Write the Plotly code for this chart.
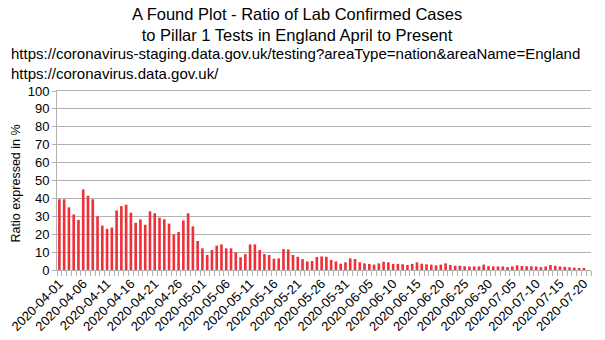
import pandas as pd
import plotly.graph_objects as go

# Daily ratio of lab-confirmed cases to Pillar 1 tests (England), in %
dates = pd.date_range("2020-04-01", "2020-07-21", freq="D").strftime("%Y-%m-%d").tolist()
ratio_pct = [
    39.5, 39.5, 35.0, 31.0, 28.0, 45.0, 41.5, 39.5, 30.0, 24.8,
    23.0, 23.7, 33.3, 35.7, 36.5, 32.0, 26.4, 28.3, 25.3, 32.8,
    31.7, 29.2, 28.3, 25.9, 19.9, 21.2, 27.7, 31.7, 24.4, 16.2,
    12.1, 8.4, 11.2, 13.6, 14.3, 12.1, 12.1, 9.9, 7.1, 8.9,
    14.3, 14.3, 11.2, 8.9, 8.4, 6.3, 6.5, 11.7, 11.5, 8.4,
    7.4, 6.1, 4.8, 5.0, 7.3, 7.6, 7.4, 5.6, 4.8, 3.5,
    4.3, 6.5, 6.1, 4.3, 3.7, 3.4, 3.0, 3.7, 4.6, 4.3,
    3.4, 3.4, 3.2, 2.8, 3.4, 4.3, 3.5, 3.2, 3.0, 2.6,
    3.0, 3.7, 2.8, 2.4, 2.4, 2.1, 2.0, 2.0, 2.0, 3.0,
    2.2, 2.0, 2.0, 2.0, 1.6, 2.0, 2.6, 2.2, 2.1, 2.1,
    2.0, 1.6, 2.0, 2.8, 2.4, 2.0, 1.8, 1.5, 1.3, 1.1,
    0.6, 0.0,
]
label_dates = dates[::5]
y_ticks = list(range(0, 101, 10))

title_lines = [
    "A Found Plot - Ratio of Lab Confirmed Cases",
    "to Pillar 1 Tests in England April to Present",
]
source_lines = [
    "https://coronavirus-staging.data.gov.uk/testing?areaType=nation&areaName=England",
    "https://coronavirus.data.gov.uk/",
]
y_title = "Ratio expressed in %"

FONT = "Liberation Sans, Arial, sans-serif"
GRID = "#b3b3b3"

fig = go.Figure(
    go.Bar(
        x=dates,
        y=ratio_pct,
        marker=dict(color="#ef3039", line=dict(width=0)),
    )
)

fig.update_layout(
    width=605,
    height=340,
    margin=dict(l=57, r=14, t=91, b=70),
    paper_bgcolor="white",
    plot_bgcolor="white",
    bargap=0.45,
    showlegend=False,
    font=dict(family=FONT, color="black", size=13),
)

fig.add_annotation(
    text="<br>".join(title_lines),
    xref="paper", yref="paper", x=0.45, y=1.0, yshift=88,
    xanchor="center", yanchor="top", showarrow=False,
    font=dict(size=16.5, family=FONT), align="center",
)
fig.add_annotation(
    text="<br>".join(source_lines),
    xref="paper", yref="paper", x=0, xshift=-48, y=1.0, yshift=48,
    xanchor="left", yanchor="top", showarrow=False,
    font=dict(size=15, family=FONT), align="left",
)
fig.add_annotation(
    text=y_title,
    xref="paper", yref="paper", x=0, xshift=-42, y=0.5, yshift=-3,
    xanchor="center", yanchor="middle", textangle=-90, showarrow=False,
    font=dict(size=12.5, family=FONT),
)

fig.update_xaxes(
    type="date",
    automargin=False,
    range=["2020-03-31 12:00", "2020-07-21 12:00"],
    tickmode="array",
    tickvals=label_dates,
    ticktext=label_dates,
    tickangle=-45,
    ticks="",
    tickfont=dict(size=13, family=FONT),
    showgrid=False,
    showline=True, linecolor=GRID, linewidth=1, mirror=True,
    minor=dict(ticks="outside", ticklen=5, tickcolor=GRID,
               dtick=86400000, tick0="2020-03-31 12:00", showgrid=False),
)
fig.update_yaxes(
    automargin=False,
    range=[0, 100],
    tickvals=y_ticks,
    ticks="outside", ticklen=4, tickcolor=GRID,
    tickfont=dict(size=13, family=FONT),
    showgrid=True, gridcolor=GRID, gridwidth=1,
    showline=True, linecolor=GRID, linewidth=1,
    zeroline=False,
)

fig.write_html("out.html")
